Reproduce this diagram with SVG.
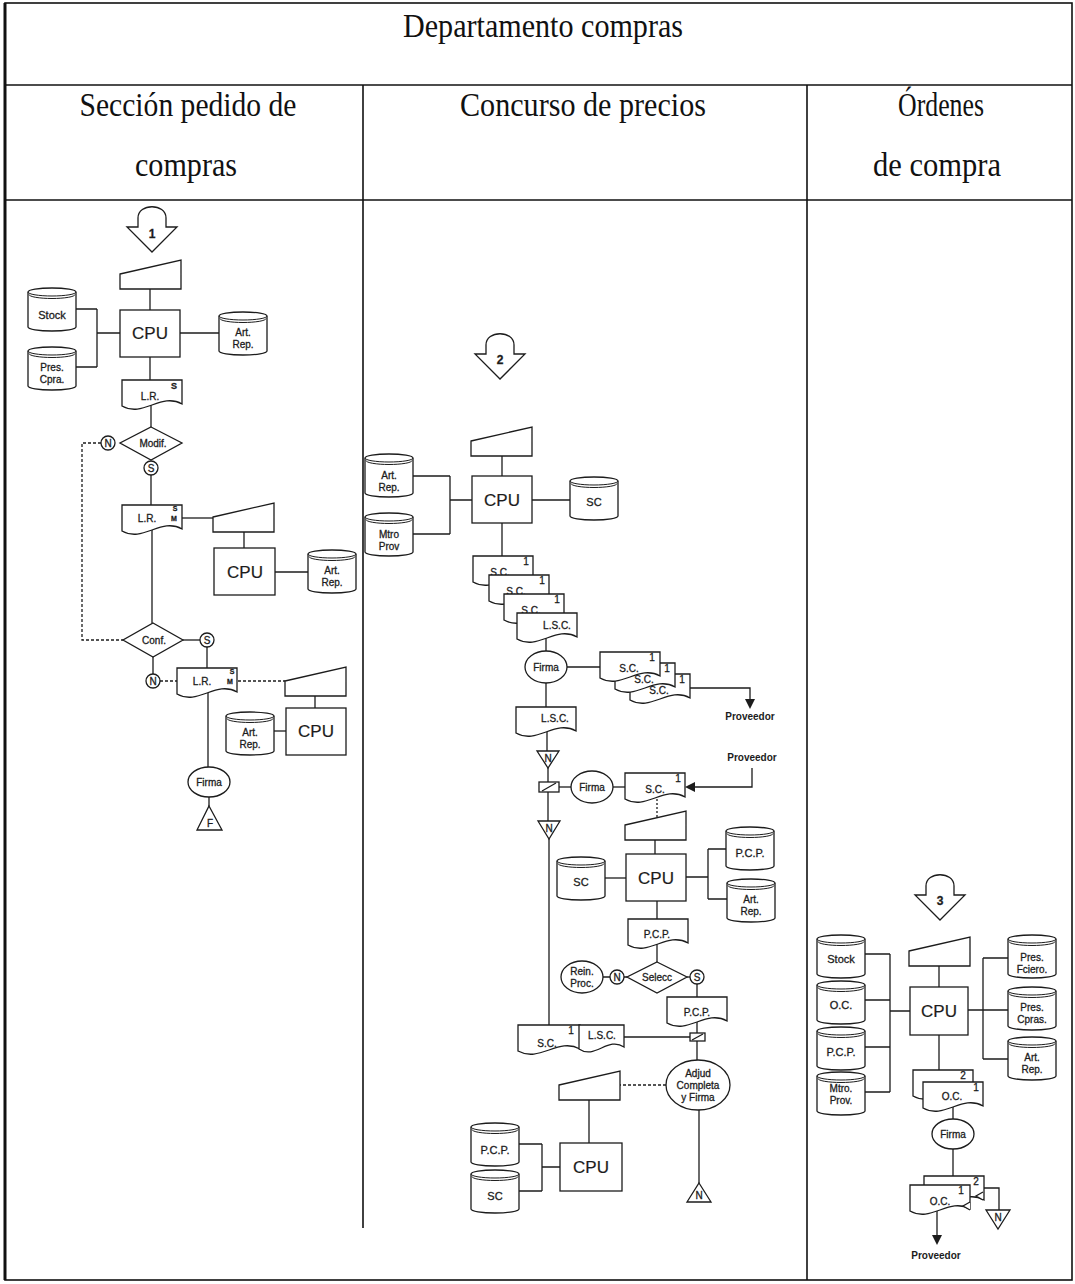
<svg xmlns="http://www.w3.org/2000/svg" xmlns:xlink="http://www.w3.org/1999/xlink" width="1075" height="1284" viewBox="0 0 1075 1284">
  <style>
    .ln { stroke: #1c1c1c; stroke-width: 1.3; fill: none; }
    .sh { stroke: #1c1c1c; stroke-width: 1.3; fill: #fff; }
    .dash { stroke-dasharray: 3 2; }
    .dot { stroke-dasharray: 2 2; }
    .grid { stroke: #111; stroke-width: 1.6; fill: none; }
    .t { font-family: "Liberation Sans", Arial, sans-serif; font-size: 11px; fill: #1c1c1c; stroke: #1c1c1c; stroke-width: 0.3; text-anchor: middle; }
    .s10 { font-size: 10px; }
    .s7 { font-size: 7px; font-weight: bold; }
    .cpu { font-size: 17px; stroke-width: 0.2; }
    .num { font-size: 12px; font-weight: bold; }
    .pv { font-size: 10px; font-weight: bold; stroke-width: 0; }
    .hd { font-family: "Liberation Serif", "Times New Roman", serif; font-size: 34px; fill: #111; text-anchor: middle; }
    .head { fill: #1c1c1c; stroke: none; }
  </style>
  <defs>
    <!-- disk storage -->
    <symbol id="cyl" overflow="visible">
      <path class="sh" d="M0,4 A24,4 0 0 1 48,4 V39 A24,4 0 0 1 0,39 Z"/>
      <path class="ln" d="M0,4 A24,4 0 0 0 48,4 M1,6.5 A23,4 0 0 0 47,6.5" style="stroke-width:1"/>
    </symbol>
    <!-- manual input / keyboard -->
    <symbol id="kbd" overflow="visible">
      <path class="sh" d="M0,14 L61,0 V29 H0 Z"/>
    </symbol>
    <!-- printed document -->
    <symbol id="doc" overflow="visible">
      <path class="sh" d="M0,0 H60 V24 C39,12 21,38 0,26 Z"/>
    </symbol>
    <!-- off-page connector -->
    <symbol id="opc" overflow="visible">
      <path class="sh" d="M0,22 H11 V13 C11,-2 39,-2 39,13 V22 H50 L25,47 Z"/>
    </symbol>
  </defs>

  <rect width="1075" height="1284" fill="#fff"/>

  <!-- table frame -->
  <g id="table">
    <rect class="grid" x="5" y="3" width="1067" height="1277"/>
    <line class="grid" x1="5" y1="3" x2="5" y2="1280" style="stroke-width:3"/>
    <line class="grid" x1="5" y1="85" x2="1072" y2="85"/>
    <line class="grid" x1="5" y1="200" x2="1072" y2="200"/>
    <line class="grid" x1="363" y1="85" x2="363" y2="1228"/>
    <line class="grid" x1="807" y1="85" x2="807" y2="1280"/>
    <text class="hd" x="543" y="37" textLength="280" lengthAdjust="spacingAndGlyphs">Departamento compras</text>
    <text class="hd" x="188" y="116" textLength="217" lengthAdjust="spacingAndGlyphs">Sección pedido de</text>
    <text class="hd" x="186" y="176" textLength="102" lengthAdjust="spacingAndGlyphs">compras</text>
    <text class="hd" x="583" y="116" textLength="246" lengthAdjust="spacingAndGlyphs">Concurso de precios</text>
    <text class="hd" x="941" y="116" textLength="86" lengthAdjust="spacingAndGlyphs">Órdenes</text>
    <text class="hd" x="937" y="176" textLength="128" lengthAdjust="spacingAndGlyphs">de compra</text>
  </g>

  <!-- connectors -->
  <g id="connectors">
    <!-- section: pedido de compras -->
    <path class="ln" d="M150,289 V310"/>
    <path class="ln" d="M76,309 H97 M76,367 H97 M97,309 V367 M97,333 H120"/>
    <path class="ln" d="M180,333 H219"/>
    <path class="ln" d="M150,357 V380"/>
    <path class="ln" d="M151,405 V427"/>
    <path class="ln dash" d="M101,443 H82 V640 H123"/>
    <path class="ln" d="M151,475 V505"/>
    <path class="ln" d="M182,518 H213"/>
    <path class="ln" d="M244,532 V548"/>
    <path class="ln" d="M275,572 H308"/>
    <path class="ln" d="M152,530 V623"/>
    <path class="ln" d="M183,640 H200"/>
    <path class="ln" d="M207,647 V668"/>
    <path class="ln" d="M153,657 V674"/>
    <path class="ln dash" d="M160,681 H177"/>
    <path class="ln dash" d="M238,681 H285"/>
    <path class="ln" d="M315,696 V708"/>
    <path class="ln" d="M274,731 H286"/>
    <path class="ln" d="M208,693 V767"/>
    <path class="ln" d="M209,797 V806"/>

    <!-- section: concurso de precios -->
    <path class="ln" d="M502,456 V476"/>
    <path class="ln" d="M413,476 H450 M413,534 H450 M450,476 V534 M450,500 H472"/>
    <path class="ln" d="M532,500 H570"/>
    <path class="ln" d="M502,523 V556"/>
    <path class="ln" d="M546,638 V651"/>
    <path class="ln" d="M567,667 H600"/>
    <path class="ln" d="M690,688 H750 V700"/>
    <path class="head" d="M745,699 H755 L750,709 Z"/>
    <path class="ln" d="M546,683 V707"/>
    <path class="ln" d="M547,732 V751"/>
    <path class="ln" d="M548,768 V782"/>
    <path class="ln" d="M559,787 H571"/>
    <path class="ln" d="M613,787 H625"/>
    <path class="ln" d="M752,768 V787 H693"/>
    <path class="head" d="M685,787 L695,782 V792 Z"/>
    <path class="ln dot" d="M657,799 V818"/>
    <path class="ln" d="M655,840 V854"/>
    <path class="ln" d="M605,878 H626"/>
    <path class="ln" d="M686,877 H708 M708,849 V899 M708,849 H726 M708,899 H727"/>
    <path class="ln" d="M657,901 V919"/>
    <path class="ln" d="M657,944 V962"/>
    <path class="ln" d="M624,977 H627 M610,977 H603"/>
    <path class="ln" d="M687,977 H690"/>
    <path class="ln" d="M697,984 V997"/>
    <path class="ln" d="M697,1022 V1033 M697,1041 V1060"/>
    <path class="ln" d="M548,792 V821"/>
    <path class="ln" d="M549,839 V1026"/>
    <path class="ln" d="M624,1037 H690"/>
    <path class="ln dash" d="M666,1085 H620"/>
    <path class="ln" d="M589,1100 V1143"/>
    <path class="ln" d="M519,1144 H542 M519,1191 H542 M542,1144 V1191 M542,1167 H560"/>
    <path class="ln" d="M699,1110 V1183"/>

    <!-- section: ordenes de compra -->
    <path class="ln" d="M939,966 V987"/>
    <path class="ln" d="M865,954 H890 M865,1000 H890 M865,1047 H890 M865,1092 H890 M890,954 V1092 M890,1011 H910"/>
    <path class="ln" d="M968,1010 H1008 M983,958 H1008 M983,1059 H1008 M983,958 V1059"/>
    <path class="ln" d="M939,1035 V1070"/>
    <path class="ln" d="M953,1107 V1119"/>
    <path class="ln" d="M953,1149 V1176"/>
    <path class="ln" d="M983,1188 H999 V1210"/>
    <path class="ln" d="M937,1211 V1236"/>
    <path class="head" d="M932,1235 H942 L937,1245 Z"/>
  </g>

  <!-- ===== Sección pedido de compras ===== -->
  <g id="conn-1"><use href="#opc" x="127" y="205"/><text class="t num" x="152" y="238">1</text></g>
  <g id="kbd-l1"><use href="#kbd" x="120" y="260"/></g>
  <g id="cpu-l1"><rect class="sh" x="120" y="310" width="60" height="47"/><text class="t cpu" x="150" y="339">CPU</text></g>
  <g id="db-stock-l"><use href="#cyl" x="28" y="288"/><text class="t" x="52" y="319">Stock</text></g>
  <g id="db-prescpra-l"><use href="#cyl" x="28" y="347"/><text class="t s10" x="52" y="371">Pres.</text><text class="t s10" x="52" y="383">Cpra.</text></g>
  <g id="db-artrep-l1"><use href="#cyl" x="219" y="312"/><text class="t s10" x="243" y="336">Art.</text><text class="t s10" x="243" y="348">Rep.</text></g>
  <g id="doc-lr-1"><use href="#doc" x="122" y="380"/><text class="t s10" x="150" y="400">L.R.</text><text class="t" x="174" y="389" style="font-size:9px;font-weight:bold">S</text></g>
  <g id="dec-modif"><polygon class="sh" points="151,427 182,443 151,460 120,443"/><text class="t s10" x="153" y="447">Modif.</text></g>
  <g id="n-modif"><circle class="sh" cx="108" cy="443" r="7"/><text class="t s10" x="108" y="447">N</text></g>
  <g id="s-modif"><circle class="sh" cx="151" cy="468" r="7"/><text class="t s10" x="151" y="472">S</text></g>
  <g id="doc-lr-2"><use href="#doc" x="122" y="505"/><text class="t s10" x="147" y="522">L.R.</text><text class="t s7" x="175" y="511">S</text><text class="t s7" x="174" y="521">M</text></g>
  <g id="kbd-l2"><use href="#kbd" x="213" y="503"/></g>
  <g id="cpu-l2"><rect class="sh" x="214" y="548" width="61" height="47"/><text class="t cpu" x="245" y="578">CPU</text></g>
  <g id="db-artrep-l2"><use href="#cyl" x="308" y="550"/><text class="t s10" x="332" y="574">Art.</text><text class="t s10" x="332" y="586">Rep.</text></g>
  <g id="dec-conf"><polygon class="sh" points="153,623 183,640 153,657 123,640"/><text class="t s10" x="154" y="644">Conf.</text></g>
  <g id="s-conf"><circle class="sh" cx="207" cy="640" r="7"/><text class="t s10" x="207" y="644">S</text></g>
  <g id="n-conf"><circle class="sh" cx="153" cy="681" r="7"/><text class="t s10" x="153" y="685">N</text></g>
  <g id="doc-lr-3"><use href="#doc" x="177" y="668"/><text class="t s10" x="202" y="685">L.R.</text><text class="t s7" x="232" y="674">S</text><text class="t s7" x="230" y="684">M</text></g>
  <g id="kbd-l3"><use href="#kbd" x="285" y="667"/></g>
  <g id="cpu-l3"><rect class="sh" x="286" y="708" width="60" height="47"/><text class="t cpu" x="316" y="737">CPU</text></g>
  <g id="db-artrep-l3"><use href="#cyl" x="226" y="712"/><text class="t s10" x="250" y="736">Art.</text><text class="t s10" x="250" y="748">Rep.</text></g>
  <g id="firma-l"><ellipse class="sh" cx="209" cy="782" rx="21" ry="15"/><text class="t s10" x="209" y="786">Firma</text></g>
  <g id="end-f"><polygon class="sh" points="209,806 222,830 197,830"/><text class="t s10" x="210" y="827">F</text></g>

  <!-- ===== Concurso de precios ===== -->
  <g id="conn-2"><use href="#opc" x="475" y="332"/><text class="t num" x="500" y="364">2</text></g>
  <g id="kbd-m1"><use href="#kbd" x="471" y="427"/></g>
  <g id="cpu-m1"><rect class="sh" x="472" y="476" width="60" height="47"/><text class="t cpu" x="502" y="506">CPU</text></g>
  <g id="db-artrep-m"><use href="#cyl" x="365" y="454"/><text class="t s10" x="389" y="479">Art.</text><text class="t s10" x="389" y="491">Rep.</text></g>
  <g id="db-mtroprov-m"><use href="#cyl" x="365" y="513"/><text class="t s10" x="389" y="538">Mtro</text><text class="t s10" x="389" y="550">Prov</text></g>
  <g id="db-sc-m1"><use href="#cyl" x="570" y="477"/><text class="t" x="594" y="506">SC</text></g>

  <g id="docs-sc-lsc">
    <use href="#doc" x="473" y="556"/><text class="t s10" x="526" y="565">1</text><text class="t s10" x="500" y="576">S.C.</text>
    <use href="#doc" x="489" y="575"/><text class="t s10" x="542" y="584">1</text><text class="t s10" x="516" y="595">S.C.</text>
    <use href="#doc" x="504" y="594"/><text class="t s10" x="557" y="603">1</text><text class="t s10" x="531" y="614">S.C.</text>
    <use href="#doc" x="517" y="613"/><text class="t s10" x="557" y="629">L.S.C.</text>
  </g>
  <g id="firma-m1"><ellipse class="sh" cx="546" cy="667" rx="21" ry="16"/><text class="t s10" x="546" y="671">Firma</text></g>
  <g id="docs-sc-prov">
    <use href="#doc" x="630" y="674"/><text class="t s10" x="682" y="683">1</text><text class="t s10" x="659" y="694">S.C.</text>
    <use href="#doc" x="615" y="663"/><text class="t s10" x="667" y="672">1</text><text class="t s10" x="644" y="683">S.C.</text>
    <use href="#doc" x="600" y="652"/><text class="t s10" x="652" y="661">1</text><text class="t s10" x="629" y="672">S.C.</text>
  </g>
  <g id="prov-out-1"><text class="t pv" x="750" y="720">Proveedor</text></g>
  <g id="doc-lsc-2"><use href="#doc" x="516" y="707"/><text class="t s10" x="555" y="722">L.S.C.</text></g>
  <g id="file-n1"><path class="sh" d="M537,751 H559 L548,768 Z"/><text class="t s10" x="548" y="762">N</text></g>
  <g id="collate-1"><rect class="sh" x="539" y="782" width="20" height="10"/><path class="ln" d="M542,791 L556,783"/></g>
  <g id="firma-m2"><ellipse class="sh" cx="592" cy="787" rx="21" ry="16"/><text class="t s10" x="592" y="791">Firma</text></g>
  <g id="doc-sc-in"><use href="#doc" x="625" y="773"/><text class="t s10" x="678" y="782">1</text><text class="t s10" x="655" y="793">S.C.</text></g>
  <g id="prov-in"><text class="t pv" x="752" y="761">Proveedor</text></g>
  <g id="kbd-m2"><use href="#kbd" x="625" y="811"/></g>
  <g id="cpu-m2"><rect class="sh" x="626" y="854" width="60" height="47"/><text class="t cpu" x="656" y="884">CPU</text></g>
  <g id="db-sc-m2"><use href="#cyl" x="557" y="857"/><text class="t" x="581" y="886">SC</text></g>
  <g id="db-pcp-m1"><use href="#cyl" x="726" y="827"/><text class="t" x="750" y="857">P.C.P.</text></g>
  <g id="db-artrep-m2"><use href="#cyl" x="727" y="879"/><text class="t s10" x="751" y="903">Art.</text><text class="t s10" x="751" y="915">Rep.</text></g>
  <g id="doc-pcp-1"><use href="#doc" x="628" y="919"/><text class="t s10" x="657" y="938">P.C.P.</text></g>
  <g id="dec-selecc"><polygon class="sh" points="657,962 687,977 657,993 627,977"/><text class="t s10" x="657" y="981">Selecc</text></g>
  <g id="n-selecc"><circle class="sh" cx="617" cy="977" r="7"/><text class="t s10" x="617" y="981">N</text></g>
  <g id="rein-proc"><ellipse class="sh" cx="582" cy="977" rx="21" ry="16"/><text class="t s10" x="582" y="975">Rein.</text><text class="t s10" x="582" y="987">Proc.</text></g>
  <g id="s-selecc"><circle class="sh" cx="697" cy="977" r="7"/><text class="t s10" x="697" y="981">S</text></g>
  <g id="doc-pcp-2"><use href="#doc" x="667" y="997"/><text class="t s10" x="697" y="1016">P.C.P.</text></g>
  <g id="collate-2"><rect class="sh" x="690" y="1033" width="15" height="8"/><path class="ln" d="M692,1040 L703,1034"/></g>
  <g id="file-n2"><path class="sh" d="M538,821 H560 L549,839 Z"/><text class="t s10" x="549" y="832">N</text></g>
  <g id="docs-sc-lsc-2">
    <path class="sh" d="M518,1025 H580 V1049 C558,1037 540,1063 518,1051 Z"/>
    <text class="t s10" x="571" y="1034">1</text><text class="t s10" x="547" y="1047">S.C.</text>
    <path class="sh" d="M579,1025 H624 V1047 C608,1036 595,1060 579,1049 Z"/>
    <text class="t s10" x="602" y="1039">L.S.C.</text>
  </g>
  <g id="adjud"><ellipse class="sh" cx="698" cy="1085" rx="32" ry="25"/><text class="t s10" x="698" y="1077">Adjud</text><text class="t s10" x="698" y="1089">Completa</text><text class="t s10" x="698" y="1101">y Firma</text></g>
  <g id="kbd-m3"><use href="#kbd" x="559" y="1071"/></g>
  <g id="cpu-m3"><rect class="sh" x="560" y="1143" width="62" height="48"/><text class="t cpu" x="591" y="1173">CPU</text></g>
  <g id="db-pcp-m2"><use href="#cyl" x="471" y="1123"/><text class="t" x="495" y="1154">P.C.P.</text></g>
  <g id="db-sc-m3"><use href="#cyl" x="471" y="1170"/><text class="t" x="495" y="1200">SC</text></g>
  <g id="file-n3"><polygon class="sh" points="699,1183 711,1202 687,1202"/><text class="t s10" x="699" y="1199">N</text></g>

  <!-- ===== Órdenes de compra ===== -->
  <g id="conn-3"><use href="#opc" x="915" y="873"/><text class="t num" x="940" y="905">3</text></g>
  <g id="kbd-r"><use href="#kbd" x="909" y="937"/></g>
  <g id="cpu-r"><rect class="sh" x="910" y="987" width="58" height="48"/><text class="t cpu" x="939" y="1017">CPU</text></g>
  <g id="db-stock-r"><use href="#cyl" x="817" y="935"/><text class="t" x="841" y="963">Stock</text></g>
  <g id="db-oc-r"><use href="#cyl" x="817" y="981"/><text class="t" x="841" y="1009">O.C.</text></g>
  <g id="db-pcp-r"><use href="#cyl" x="817" y="1027"/><text class="t" x="841" y="1056">P.C.P.</text></g>
  <g id="db-mtroprov-r"><use href="#cyl" x="817" y="1072"/><text class="t s10" x="841" y="1092">Mtro.</text><text class="t s10" x="841" y="1104">Prov.</text></g>
  <g id="db-presfciero-r"><use href="#cyl" x="1008" y="935"/><text class="t s10" x="1032" y="961">Pres.</text><text class="t s10" x="1032" y="973">Fciero.</text></g>
  <g id="db-prescpras-r"><use href="#cyl" x="1008" y="987"/><text class="t s10" x="1032" y="1011">Pres.</text><text class="t s10" x="1032" y="1023">Cpras.</text></g>
  <g id="db-artrep-r"><use href="#cyl" x="1008" y="1037"/><text class="t s10" x="1032" y="1061">Art.</text><text class="t s10" x="1032" y="1073">Rep.</text></g>
  <g id="docs-oc-1">
    <use href="#doc" x="913" y="1070"/><text class="t s10" x="963" y="1079">2</text>
    <use href="#doc" x="923" y="1082"/><text class="t s10" x="976" y="1091">1</text><text class="t s10" x="952" y="1100">O.C.</text>
  </g>
  <g id="firma-r"><ellipse class="sh" cx="953" cy="1134" rx="21" ry="15"/><text class="t s10" x="953" y="1138">Firma</text></g>
  <g id="docs-oc-2">
    <use href="#doc" x="924" y="1176"/><text class="t s10" x="976" y="1185">2</text>
    <path class="sh" d="M983,1192 L976,1196 L983,1200"/>
    <use href="#doc" x="910" y="1185"/><text class="t s10" x="961" y="1194">1</text><text class="t s10" x="940" y="1205">O.C.</text>
    <path class="sh" d="M970,1202 L963,1206 L970,1210"/>
  </g>
  <g id="file-n4"><path class="sh" d="M986,1210 H1010 L998,1229 Z"/><text class="t s10" x="998" y="1221">N</text></g>
  <g id="prov-out-2"><text class="t pv" x="936" y="1259">Proveedor</text></g>
</svg>
